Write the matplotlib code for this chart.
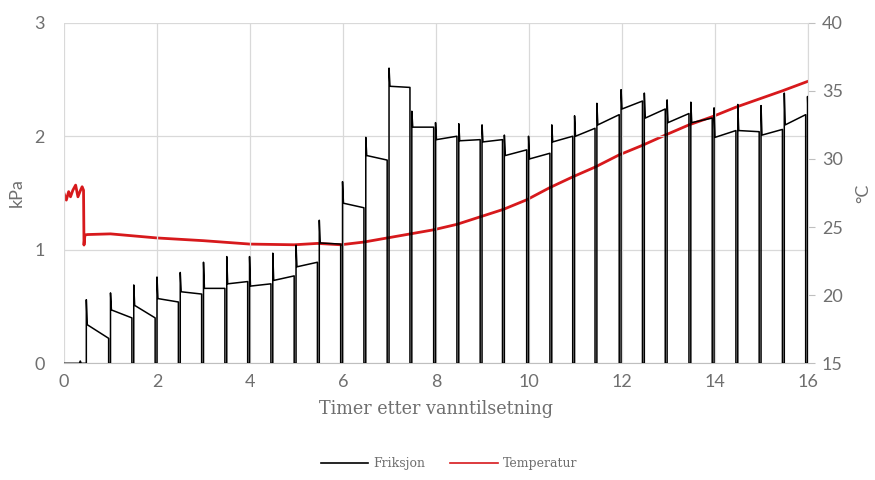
import matplotlib
matplotlib.use("Agg")
import matplotlib.pyplot as plt
from matplotlib.lines import Line2D

# ---- data ----
# Friksjon (kPa): each test event at a time, spike peak, plateau start / end values
event_t = [0.44, 0.96, 1.46, 1.96, 2.46, 2.96, 3.46, 3.95, 4.45, 4.95, 5.45, 5.95,
           6.45, 6.95, 7.44, 7.95, 8.45, 8.95, 9.43, 9.95, 10.45, 10.94, 11.42, 11.94,
           12.44, 12.93, 13.44, 13.94, 14.45, 14.95, 15.45, 15.95]
peak = [0.56, 0.62, 0.69, 0.76, 0.80, 0.89, 0.94, 0.94, 0.97, 1.04, 1.26, 1.60,
        1.99, 2.60, 2.22, 2.12, 2.11, 2.10, 2.01, 2.00, 2.10, 2.18, 2.29, 2.41,
        2.38, 2.32, 2.30, 2.25, 2.28, 2.27, 2.38, 2.35]
plat_start = [0.34, 0.47, 0.51, 0.57, 0.63, 0.66, 0.70, 0.68, 0.73, 0.85, 1.06, 1.41,
              1.83, 2.44, 2.08, 1.97, 1.96, 1.95, 1.83, 1.80, 1.95, 2.00, 2.10, 2.24,
              2.16, 2.12, 2.12, 1.99, 2.05, 2.01, 2.10, 2.09]
plat_end = [0.22, 0.40, 0.40, 0.54, 0.61, 0.66, 0.72, 0.70, 0.77, 0.89, 1.05, 1.37,
            1.79, 2.43, 2.08, 2.00, 1.97, 1.97, 1.88, 1.85, 2.00, 2.07, 2.19, 2.31,
            2.24, 2.20, 2.16, 2.05, 2.04, 2.06, 2.19, 2.09]
end_t = 16.0

# Temperatur (°C)
temp_t = [0.0, 0.05, 0.10, 0.14, 0.19, 0.25, 0.30, 0.35, 0.39, 0.42, 0.43, 0.45,
          0.5, 1.0, 2.0, 3.0, 4.0, 4.95, 5.45, 5.95, 6.45, 6.95, 7.45, 7.95, 8.45,
          8.95, 9.45, 9.95, 10.45, 10.95, 11.42, 11.94, 12.44, 12.93, 13.44, 13.94,
          14.45, 14.95, 15.45, 16.0]
temp_v = [27.47, 26.98, 27.60, 27.22, 27.70, 28.08, 27.22, 27.66, 27.96, 27.70, 23.68, 24.41,
          24.45, 24.50, 24.20, 24.00, 23.75, 23.70, 23.80, 23.70, 23.90, 24.20, 24.50, 24.80,
          25.20, 25.75, 26.30, 27.00, 27.90, 28.70, 29.40, 30.30, 31.00, 31.75, 32.50, 33.10,
          33.80, 34.40, 35.00, 35.70]

# ---- build friction trace from the event arrays ----
gap = 0.04
fx, fy = [0.0, 0.05, 0.33, 0.35, 0.37, event_t[0]], [0.0, 0.0, 0.0, 0.02, 0.0, 0.0]
for i, te in enumerate(event_t):
    if i > 0:
        fx += [te, te]
        fy += [plat_end[i - 1], 0.0]
    nxt = event_t[i + 1] if i + 1 < len(event_t) else end_t
    fx += [te + gap, te + gap, te + gap + 0.02, nxt]
    fy += [0.0, peak[i], plat_start[i], plat_end[i]]

# ---- figure ----
W, H = 875, 480
fig = plt.figure(figsize=(W / 100, H / 100), dpi=100)
ax = fig.add_axes([64 / W, 1 - 363.3 / H, (808 - 64) / W, (363.3 - 22.7) / H])
ax2 = ax.twinx()

tick_c = "#6f6f6f"
grid_c = "#d9d9d9"
sans = ["Lato", "DejaVu Sans"]
serif = ["DejaVu Serif"]

ax.plot(fx, fy, color="black", lw=1.1, zorder=3)
ax2.plot(temp_t, temp_v, color="#d7191c", lw=2.0, zorder=4)

ax.set_xlim(0, 16)
ax.set_ylim(0, 3)
ax2.set_ylim(15, 40)
ax.set_xticks(range(0, 17, 2))
ax.set_yticks([0, 1, 2, 3])
ax2.set_yticks([15, 20, 25, 30, 35, 40])

ax.set_zorder(ax2.get_zorder() + 1)
ax.patch.set_visible(False)

ax.grid(True, color=grid_c, lw=0.9)
ax.set_axisbelow(True)
for a in (ax, ax2):
    for s in a.spines.values():
        s.set_visible(False)
ax2.spines["right"].set_visible(True)
ax2.spines["right"].set_color(grid_c)
ax.spines["bottom"].set_visible(True)
ax.spines["bottom"].set_color("#bfbfbf")

ax.tick_params(axis="both", length=0, labelsize=13, labelcolor=tick_c, pad=8)
ax.tick_params(axis="y", pad=14)
ax2.tick_params(axis="y", length=5, color="#bfbfbf", labelsize=13, labelcolor=tick_c, pad=5)
for lab in ax.get_xticklabels() + ax.get_yticklabels() + ax2.get_yticklabels():
    lab.set_family(sans)

ax.set_xlabel("Timer etter vanntilsetning", family=serif, fontsize=12.7, color=tick_c, labelpad=7)
ax.set_ylabel("kPa", family=sans, fontsize=13, color=tick_c, labelpad=7)
ax2.set_ylabel("°C", family=sans, fontsize=13, color=tick_c, rotation=90, labelpad=9)

handles = [Line2D([], [], color="black", lw=1.2), Line2D([], [], color="#d7191c", lw=1.2)]
fig.legend(handles, ["Friksjon", "Temperatur"], loc="center", bbox_to_anchor=(449 / W, 1 - 464 / H),
           ncol=2, frameon=False, prop={"family": serif, "size": 9}, handlelength=3.8,
           columnspacing=2.0, handletextpad=0.4, labelcolor=tick_c)

fig.savefig("out.png", dpi=100)
